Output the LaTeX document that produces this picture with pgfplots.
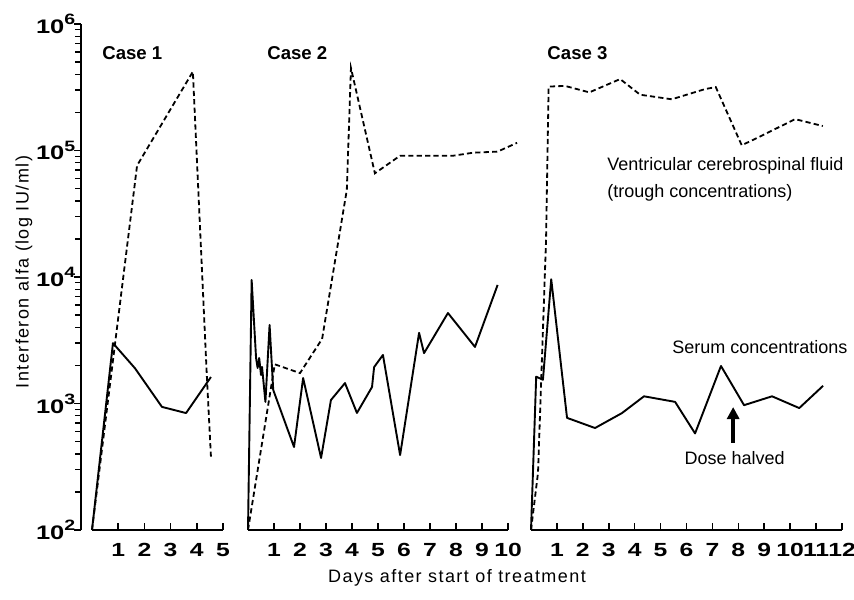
\documentclass[border=0pt]{standalone}
\usepackage{fontspec}
\setmainfont{Liberation Sans}
\newfontfamily\tickfont[FakeStretch=1.3]{Liberation Sans}
\newfontfamily\labelfont[LetterSpace=8]{Liberation Sans}
\usepackage{pgfplots}
\usepackage{pgfplotstable}
\pgfplotsset{compat=1.18}
\usetikzlibrary{arrows.meta}

\newcommand\tp[1]{10\raisebox{0.45em}{\fontsize{7.5}{7.5}\selectfont #1}}

\pgfplotstableread{
x y
0 100
0.80 3000
1.64 1900
2.67 940
3.59 840
4.54 1620
}\serumA
\pgfplotstableread{
x y
0 100
1.72 76000
3.85 420000
4.38 1700
4.54 380
}\csfA
\pgfplotstableread{
x y
0 100
0.14 9460
0.31 2290
0.37 1910
0.43 2290
0.50 1680
0.54 1945
0.67 1030
0.83 4180
0.97 1280
1.77 453
2.12 1590
2.81 371
3.19 1065
3.73 1450
4.19 842
4.77 1350
4.85 1940
5.19 2420
5.85 391
6.58 3620
6.77 2500
7.69 5190
8.73 2800
9.60 8650
}\serumB
\pgfplotstableread{
x y
0 100
1.03 2040
2.00 1740
2.85 3240
3.80 48700
3.96 449000
4.88 66000
5.85 91000
7.90 91000
8.65 96000
9.60 98000
10.35 115000
}\csfB
\pgfplotstableread{
x y
0 100
0.20 1630
0.46 1540
0.78 9600
1.39 770
2.47 640
3.51 840
4.36 1140
5.56 1030
6.33 580
7.33 1980
8.22 970
9.30 1140
10.35 920
11.27 1380
}\serumC
\pgfplotstableread{
x y
0 100
0.27 283
0.58 19500
0.68 320000
1.31 324000
2.25 288000
3.44 367000
4.21 276000
5.43 254000
6.72 306000
7.13 317000
8.13 110000
8.84 129000
10.19 177000
11.26 156000
}\csfC

\tikzset{
  mycase/.style={anchor=west, inner sep=0pt, font=\bfseries\fontsize{9.3}{10}\selectfont},
  myannot/.style={anchor=base west, inner sep=0pt, font=\fontsize{9}{10}\selectfont},
}

\begin{document}
\begin{tikzpicture}
\path[use as bounding box] (0pt,0pt) rectangle (427pt,299.5pt);

% y axis
\begin{axis}[scale only axis, width=10pt, height=253pt,
  at={(40.5pt,34.5pt)}, anchor=south west,
  ymode=log, ymin=100, ymax=1000000, xmin=0, xmax=1,
  axis y line=left, hide x axis,
  axis line style={-, line width=0.8pt},
  ytick={100,1000,10000,100000,1000000},
  yticklabels={\tp{2},\tp{3},\tp{4},\tp{5},\tp{6}},
  minor ytick={200,300,400,500,600,700,800,900,2000,3000,4000,5000,6000,7000,8000,9000,20000,30000,40000,50000,60000,70000,80000,90000,200000,300000,400000,500000,600000,700000,800000,900000},
  ytick align=outside, major tick length=3.5pt, minor tick length=3pt,
  tick style={line width=0.7pt, black},
  yticklabel style={font=\tickfont\bfseries\fontsize{9.8}{10}\selectfont, anchor=east, inner sep=0pt, xshift=0.8pt},
]
\addplot[draw=none] coordinates {(0,100)};
\end{axis}

% Panel 1
\begin{axis}[scale only axis, height=253pt, ymode=log, ymin=100, ymax=1000000,
  axis x line=bottom, hide y axis, axis line style={-, line width=0.8pt},
  xtick align=inside, major tick length=3.5pt, tick style={line width=0.8pt, black},
  xticklabel style={font=\tickfont\bfseries\fontsize{9.5}{10}\selectfont, anchor=north, inner sep=0pt, yshift=-6.5pt},
  clip=false,
  width=65.5pt, at={(46pt,34.5pt)}, anchor=south west,
  xmin=0, xmax=5, xtick={1,2,3,4,5}, xticklabels={1,2,3,4,5}]
\addplot[black, line width=0.95pt, line join=round] table {\serumA};
\addplot[black, line width=0.9pt, dash pattern=on 2.6pt off 1.6pt] table {\csfA};
\node[mycase] at (axis cs:0.38,590000) {Case 1};
\end{axis}

% Panel 2
\begin{axis}[scale only axis, height=253pt, ymode=log, ymin=100, ymax=1000000,
  axis x line=bottom, hide y axis, axis line style={-, line width=0.8pt},
  xtick align=inside, major tick length=3.5pt, tick style={line width=0.8pt, black},
  xticklabel style={font=\tickfont\bfseries\fontsize{9.5}{10}\selectfont, anchor=north, inner sep=0pt, yshift=-6.5pt},
  clip=false,
  width=130pt, at={(124pt,34.5pt)}, anchor=south west,
  xmin=0, xmax=10, xtick={1,...,10}, xticklabels={1,2,3,4,5,6,7,8,9,10}]
\addplot[black, line width=0.95pt, line join=round] table {\serumB};
\addplot[black, line width=0.9pt, dash pattern=on 2.6pt off 1.6pt] table {\csfB};
\node[mycase] at (axis cs:0.73,590000) {Case 2};
\end{axis}

% Panel 3
\begin{axis}[scale only axis, height=253pt, ymode=log, ymin=100, ymax=1000000,
  axis x line=bottom, hide y axis, axis line style={-, line width=0.8pt},
  xtick align=inside, major tick length=3.5pt, tick style={line width=0.8pt, black},
  xticklabel style={font=\tickfont\bfseries\fontsize{9.5}{10}\selectfont, anchor=north, inner sep=0pt, yshift=-6.5pt},
  clip=false,
  width=155.5pt, at={(265.5pt,34.5pt)}, anchor=south west,
  xmin=0, xmax=12, xtick={1,...,12}, xticklabels={1,2,3,4,5,6,7,8,9,10,11,12}]
\addplot[black, line width=0.95pt, line join=round] table {\serumC};
\addplot[black, line width=0.9pt, dash pattern=on 2.6pt off 1.6pt] table {\csfC};
\node[mycase] at (axis cs:0.62,590000) {Case 3};
\node[myannot] at (axis cs:2.93,70000) {Ventricular cerebrospinal fluid};
\node[myannot] at (axis cs:2.93,42800) {(trough concentrations)};
\node[myannot] at (axis cs:5.44,2500) {Serum concentrations};
\node[myannot] at (axis cs:5.91,327) {Dose halved};
\draw[line width=1.7pt, -{Triangle[width=6pt,length=6pt]}] (axis cs:7.8,488) -- (axis cs:7.8,938);
\end{axis}

\node[rotate=90, font=\labelfont\fontsize{9}{10}\selectfont] at (12pt,163.5pt) {Interferon alfa (log IU/ml)};
\node[font=\labelfont\fontsize{9}{10}\selectfont] at (228.5pt,10.5pt) {Days after start of treatment};
\end{tikzpicture}
\end{document}
